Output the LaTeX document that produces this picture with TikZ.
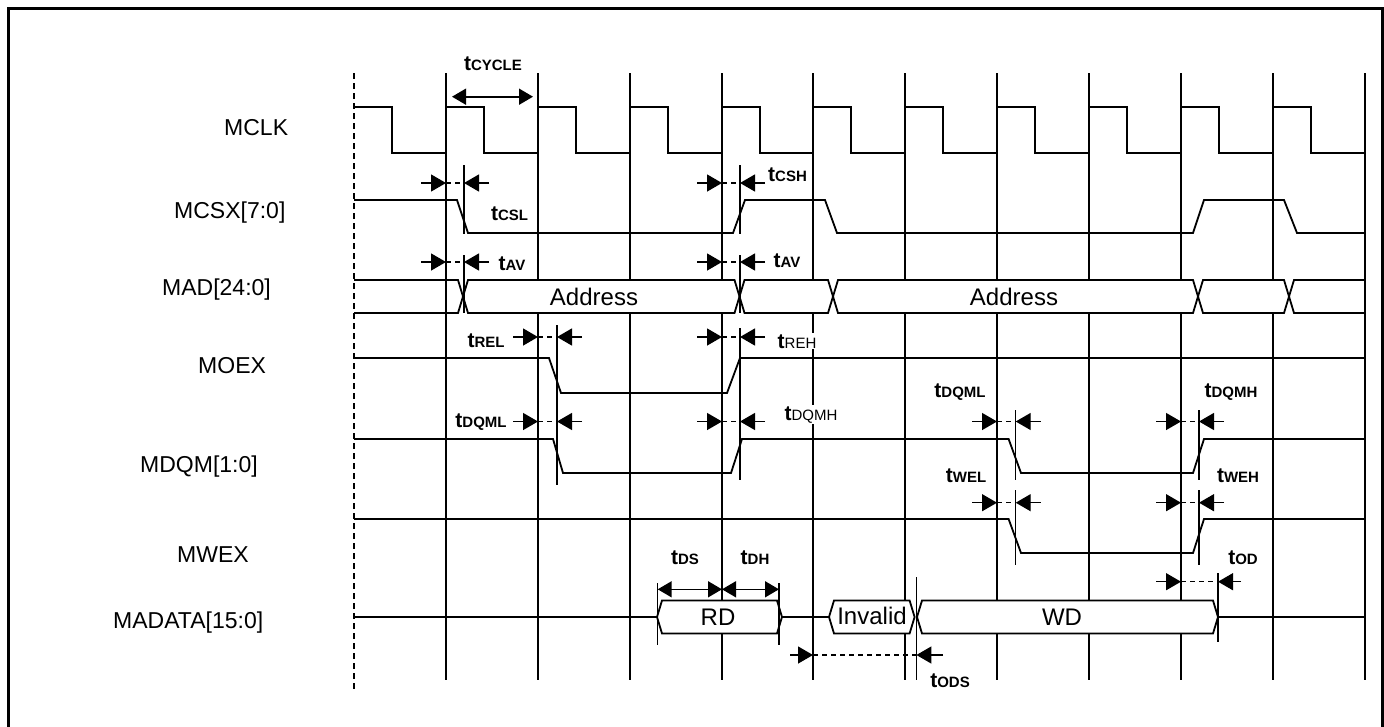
\documentclass[tikz,border=0pt]{standalone}
\usepackage{fontspec}
\setmainfont{Liberation Sans}
\usepackage{tikz}
\usetikzlibrary{arrows.meta}
\usepackage{xcolor}

\newcommand{\tsub}[1]{{\fontsize{21}{21}\selectfont\bfseries t}{\fontsize{15}{15}\selectfont\bfseries #1}}
\newcommand{\tsubl}[1]{{\fontsize{21}{21}\selectfont\bfseries t}{\fontsize{15}{15}\selectfont #1}}
\newcommand{\busbox}[3]{\draw[sig, fill=white] (#1,#3) -- (#1+5,#3-16.5) -- (#2-5,#3-16.5) -- (#2,#3) -- (#2-5,#3+16.5) -- (#1+5,#3+16.5) -- cycle;}
\newcommand{\tgap}[3]{\draw[dimarr] (#1-25,#3) -- (#1,#3); \draw[gap] (#1,#3) -- (#2,#3); \draw[dimarr] (#2+25,#3) -- (#2,#3);}

\tikzset{
  sig/.style={line width=1.8pt},
  gridln/.style={line width=2pt},
  refln/.style={line width=1.4pt},
  gap/.style={line width=1.4pt, dash pattern=on 5pt off 4pt},
  dimarr/.style={line width=1.4pt, -{Triangle[length=15pt,width=17pt]}},
  dblarr/.style={line width=1.6pt, {Triangle[length=14pt,width=16pt]}-{Triangle[length=14pt,width=16pt]}},
  signame/.style={anchor=base west, inner sep=0pt, font=\fontsize{23}{26}\selectfont},
  boxtext/.style={anchor=base, inner sep=0pt, font=\fontsize{24}{26}\selectfont},
  tlabel/.style={anchor=base, inner sep=0pt},
  tlabelw/.style={anchor=base, inner sep=1pt, fill=white}
}

\begin{document}
\begin{tikzpicture}[x=1pt, y=-1pt]
    \useasboundingbox (0,0) rectangle (1384,726);
    % Moldura
    \draw[line width=3pt] (8,730) -- (8,8) -- (1382,8) -- (1382,730);
    % Nomes dos sinais
    \node[signame] (mclk) at (224,135) {MCLK};
    \node[signame] (mcsx) at (174,218) {MCSX[7:0]};
    \node[signame] (mad) at (162,295) {MAD[24:0]};
    \node[signame] (moex) at (198,373) {MOEX};
    \node[signame] (mdqm) at (140,472) {MDQM[1:0]};
    \node[signame] (mwex) at (177,562) {MWEX};
    \node[signame] (madata) at (113,628) {MADATA[15:0]};
    % Grade e relogio
    \draw[gridln, dash pattern=on 6pt off 4pt] (354,73) -- (354,690);
    \foreach \k in {1,...,11}
        \draw[gridln] ({round(354+91.9*\k)},73) -- ++(0,607);
    \foreach \k in {0,...,10}
        \draw[sig] ({round(354+91.9*\k)},107) -- ++(38,0) -- ++(0,46) -- ({round(354+91.9*(\k+1))},153);
    \draw[dblarr] (452,96.7) -- (533,96.7);
    \node[tlabel] (tcycle) at (493,70.7) {\tsub{CYCLE}};
    % MCSX
    \draw[sig] (354,200) -- (457,200) -- (468,233) -- (733,233) -- (745,200) -- (825,200) -- (837,233)
        -- (1193,233) -- (1204,200) -- (1284,200) -- (1297,233) -- (1365,233);
    \draw[refln] (464,165) -- (464,234);
    \draw[refln] (740,165) -- (740,234);
    \tgap{446}{464}{183}
    \tgap{722}{740}{183}
    \node[tlabel] (tcsl) at (509.5,220) {\tsub{CSL}};
    \node[tlabel] (tcsh) at (787.5,181.7) {\tsub{CSH}};
    % MAD
    \draw[sig] (354,280) -- (458,280) -- (463,296.5) -- (458,313) -- (354,313);
    \busbox{463}{739.5}{296.5}
    \busbox{739.5}{833}{296.5}
    \busbox{833}{1198}{296.5}
    \busbox{1198}{1289}{296.5}
    \draw[sig] (1365,280) -- (1294,280) -- (1289,296.5) -- (1294,313) -- (1365,313);
    \draw[refln] (464,255) -- (464,313);
    \draw[refln] (740,255) -- (740,313);
    \tgap{446}{464}{262}
    \tgap{722}{740}{262}
    \node[tlabel] (tav1) at (512,270) {\tsub{AV}};
    \node[tlabel] (tav2) at (787,267) {\tsub{AV}};
    \node[boxtext] (addr1) at (594,305) {Address};
    \node[boxtext] (addr2) at (1014,305) {Address};
    % MOEX
    \draw[sig] (354,358) -- (549,358) -- (561,393) -- (727,393) -- (740,358) -- (1365,358);
    \draw[refln] (557,325) -- (557,485);
    \draw[refln] (740,328) -- (740,480);
    \tgap{538}{557}{337}
    \tgap{722}{740}{337}
    \node[tlabel] (trel) at (486,347) {\tsub{REL}};
    \node[tlabelw] (treh) at (797,348) {\tsubl{REH}};
    % MDQM
    \draw[sig] (354,439) -- (553,439) -- (563,473) -- (731,473) -- (742,439) -- (1008.6,439) -- (1021,473)
        -- (1193,473) -- (1204,439) -- (1365,439);
    \draw[refln] (1015.7,410) -- (1015.7,480);
    \draw[refln] (1199,410) -- (1199,480);
    \tgap{538}{557}{421.5}
    \tgap{722}{740}{421.5}
    \tgap{997}{1015.7}{421.5}
    \tgap{1181}{1199}{421.5}
    \node[tlabel] (tdqml1) at (481,427) {\tsub{DQML}};
    \node[tlabelw] (tdqmh1) at (811,420) {\tsubl{DQMH}};
    \node[tlabel] (tdqml2) at (960,397) {\tsub{DQML}};
    \node[tlabel] (tdqmh2) at (1231,397) {\tsub{DQMH}};
    % MWEX
    \draw[sig] (354,519) -- (1008.6,519) -- (1021,553) -- (1193,553) -- (1204,519) -- (1365,519);
    \draw[refln] (1015.7,490) -- (1015.7,565);
    \draw[refln] (1199,490) -- (1199,565);
    \tgap{997}{1015.7}{502.7}
    \tgap{1181}{1199}{502.7}
    \node[tlabel] (twel) at (966,482) {\tsub{WEL}};
    \node[tlabel] (tweh) at (1238,482) {\tsub{WEH}};
    % MADATA
    \draw[sig] (354,617) -- (657,617);
    \busbox{657}{782}{617}
    \draw[sig] (782,617) -- (829,617);
    \busbox{829}{914.6}{617}
    \busbox{917}{1218}{617}
    \draw[sig] (1218,617) -- (1365,617);
    \node[boxtext] (rd) at (718,625) {RD};
    \node[boxtext] (inval) at (872,624) {Invalid};
    \node[boxtext] (wd) at (1062,625) {WD};
    \draw[refln] (657.7,583) -- (657.7,645);
    \draw[refln] (779,583) -- (779,645);
    \draw[refln] (916.4,577) -- (916.4,680);
    \draw[refln] (1218,573) -- (1218,642);
    \draw[dblarr] (657.7,589.3) -- (722,589.3);
    \draw[dblarr] (722,589.3) -- (779,589.3);
    \node[tlabel] (tds) at (685,564) {\tsub{DS}};
    \node[tlabel] (tdh) at (755,564) {\tsub{DH}};
    \draw[dimarr] (1156,581.7) -- (1181,581.7);
    \draw[gap] (1181,581.7) -- (1218,581.7);
    \draw[dimarr] (1241,581.7) -- (1218,581.7);
    \node[tlabel] (tod) at (1243,564) {\tsub{OD}};
    \draw[dimarr] (790,655) -- (813,655);
    \draw[gap] (813,655) -- (916.4,655);
    \draw[dimarr] (943,655) -- (916.4,655);
    \node[tlabel] (tods) at (950,687) {\tsub{ODS}};
\end{tikzpicture}
\end{document}
